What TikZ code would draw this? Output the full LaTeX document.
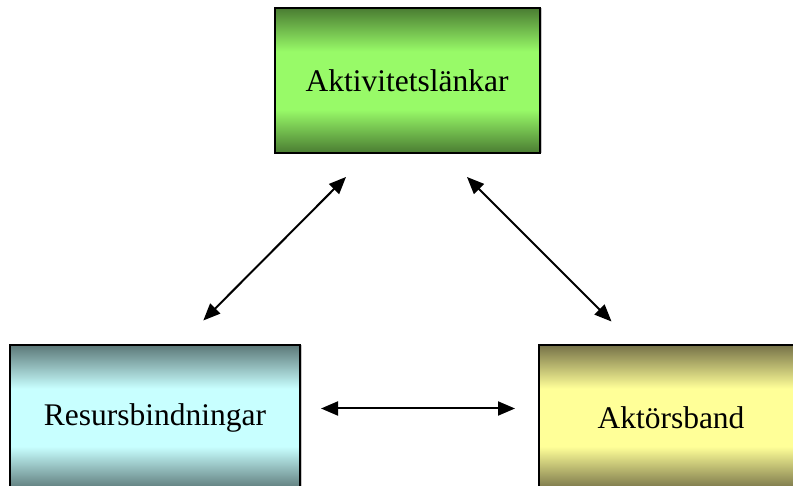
\documentclass[tikz,border=0pt]{standalone}
\usepackage{fontspec}
\setmainfont{Liberation Serif}
\usetikzlibrary{arrows.meta,shadows}
\definecolor{gdark}{RGB}{74,124,50}
\definecolor{glight}{RGB}{152,250,104}
\definecolor{tdark}{RGB}{92,120,120}
\definecolor{tlight}{RGB}{200,255,255}
\definecolor{ydark}{RGB}{118,114,72}
\definecolor{ylight}{RGB}{255,255,152}
\pgfdeclareverticalshading{greenbar}{100bp}{color(0bp)=(gdark); color(25bp)=(gdark); color(40bp)=(glight); color(60bp)=(glight); color(75bp)=(gdark); color(100bp)=(gdark)}
\pgfdeclareverticalshading{tealbar}{100bp}{color(0bp)=(tdark); color(25bp)=(tdark); color(40bp)=(tlight); color(60bp)=(tlight); color(75bp)=(tdark); color(100bp)=(tdark)}
\pgfdeclareverticalshading{yellowbar}{100bp}{color(0bp)=(ydark); color(25bp)=(ydark); color(40bp)=(ylight); color(60bp)=(ylight); color(75bp)=(ydark); color(100bp)=(ydark)}
\tikzset{
  box/.style={draw=black, line width=2pt, inner sep=0pt, minimum height=145pt,
    font=\fontsize{31.5}{36}\selectfont,
    drop shadow={shadow xshift=2pt, shadow yshift=0pt, fill=gray!45, opacity=1}},
  link/.style={line width=2pt, {Triangle[length=17pt,width=14pt]}-{Triangle[length=17pt,width=14pt]}}
}
\begin{document}
\begin{tikzpicture}[x=1pt,y=-1pt]
\useasboundingbox (0,0) rectangle (793,486);
\clip (0,0) rectangle (793,486);
\node[box, shading=greenbar, minimum width=265pt] (akt) at (407,80.5) {Aktivitetslänkar};
\node[box, shading=tealbar, minimum width=290pt] (res) at (155,417.5) {Resursbindningar};
\node[box, shading=yellowbar, minimum width=264pt] (aktor) at (671,417.5) {Aktörsband};
\coordinate (a1) at (346,177);
\coordinate (a2) at (203.3,320.5);
\coordinate (b1) at (467,177);
\coordinate (b2) at (611.5,321.5);
\coordinate (c1) at (321,408.5);
\coordinate (c2) at (515,408.5);
\draw[link] (a1) -- (a2);
\draw[link] (b1) -- (b2);
\draw[link] (c1) -- (c2);
\end{tikzpicture}
\end{document}
